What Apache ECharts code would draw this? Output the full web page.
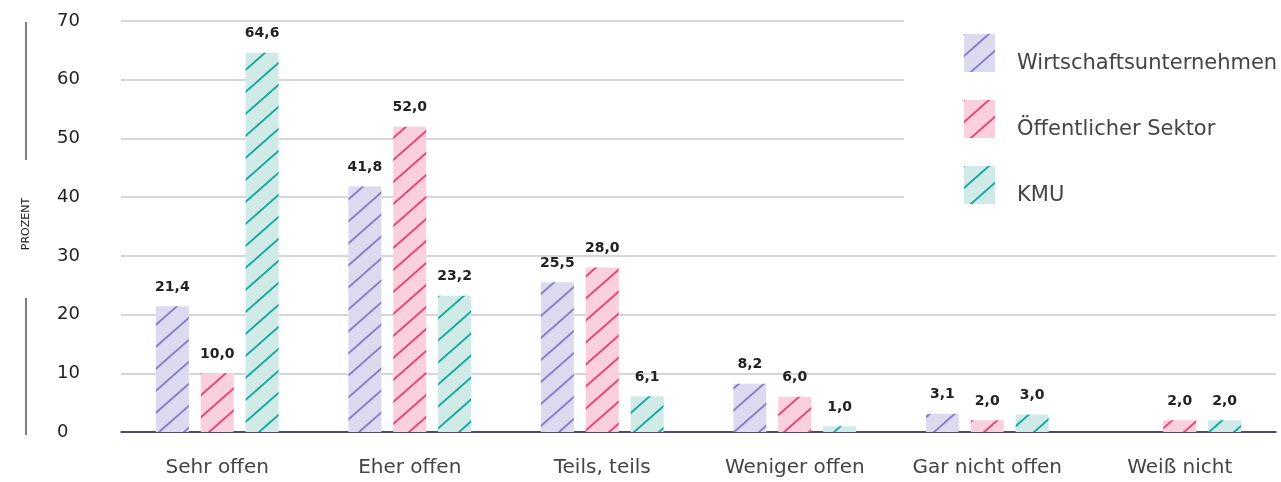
<!DOCTYPE html>
<html>
<head>
<meta charset="utf-8">
<script src="https://cdn.jsdelivr.net/npm/echarts@6/dist/echarts.min.js"></script>
<style>
  html, body { margin: 0; padding: 0; background: #fff; }
  #chart { width: 1281px; height: 482px; }
</style>
</head>
<body>
<div id="chart"></div>
<script>
// Antwortkategorien und Anteile in Prozent
const categories = ['Sehr offen', 'Eher offen', 'Teils, teils', 'Weniger offen', 'Gar nicht offen', 'Weiß nicht'];
const seriesNames = ['Wirtschaftsunternehmen', 'Öffentlicher Sektor', 'KMU'];
const wirtschaft = [21.4, 41.8, 25.5, 8.2, 3.1, null];
const oeffentlich = [10.0, 52.0, 28.0, 6.0, 2.0, 2.0];
const kmu = [64.6, 23.2, 6.1, 1.0, 3.0, 2.0];
const yTicks = [0, 10, 20, 30, 40, 50, 60, 70];

const FONT = '"DejaVu Sans", "Noto Sans", sans-serif';

// Schraffur: helle Fläche mit diagonalen Linien (links unten nach rechts oben)
function hatch(fill, stroke) {
  const w = 25, h = 22;
  const c = document.createElement('canvas');
  c.width = w; c.height = h;
  const ctx = c.getContext('2d');
  ctx.fillStyle = fill;
  ctx.fillRect(0, 0, w, h);
  ctx.strokeStyle = stroke;
  ctx.lineWidth = 2;
  for (let k = -1; k <= 1; k++) {
    ctx.beginPath();
    ctx.moveTo(-w, 2 * h + k * h);
    ctx.lineTo(2 * w, -h + k * h);
    ctx.stroke();
  }
  return { image: c, repeat: 'repeat' };
}

const styles = [
  hatch('#dcdaee', '#8580c8'),
  hatch('#f9d0dc', '#e8457b'),
  hatch('#d0eae8', '#19aa9f')
];
const values = [wirtschaft, oeffentlich, kmu];

const fmt = v => v.toFixed(1).replace('.', ',');

const chart = echarts.init(document.getElementById('chart'));
chart.setOption({
  animation: false,
  backgroundColor: '#fff',
  textStyle: { fontFamily: FONT },
  grid: { left: 121, right: 5, top: 21, bottom: 50, containLabel: false },
  legend: {
    orient: 'vertical',
    left: 964,
    top: 34,
    padding: 0,
    itemWidth: 31,
    itemHeight: 38,
    itemGap: 25.5,
    icon: 'rect',
    data: seriesNames,
    formatter: name => '{t|' + name + '}',
    textStyle: {
      fontFamily: FONT, fontSize: 21, color: '#444',
      rich: { t: { fontFamily: FONT, fontSize: 21, color: '#444', padding: [22, 0, 0, 17] } }
    }
  },
  xAxis: {
    type: 'category',
    data: categories,
    axisTick: { show: false },
    axisLine: { lineStyle: { color: '#1f1d4b', width: 1.5 } },
    axisLabel: { interval: 0, fontFamily: FONT, fontSize: 20, color: '#444', margin: 26 }
  },
  yAxis: {
    type: 'value',
    min: 0, max: 70, interval: 10,
    axisLine: { show: false },
    axisTick: { show: false },
    splitLine: { lineStyle: { color: '#c8c8cc', width: 1.5 } },
    axisLabel: {
      fontFamily: FONT, fontSize: 18, color: '#222',
      align: 'left', margin: 64,
      formatter: v => yTicks.includes(v) ? String(v) : ''
    }
  },
  graphic: [
    // weißer Hintergrund hinter der Legende
    { type: 'rect', left: 904, top: 0, shape: { width: 377, height: 210 }, style: { fill: '#fff' }, z: 3, silent: true },
    // Achsentitel mit seitlichen Linien
    { type: 'text', x: 26, y: 224, rotation: Math.PI / 2,
      style: { text: 'PROZENT', fontFamily: FONT, fontSize: 11, fill: '#222', align: 'center', verticalAlign: 'middle' } },
    { type: 'line', shape: { x1: 26, y1: 22, x2: 26, y2: 160 }, style: { stroke: '#555', lineWidth: 1.5 } },
    { type: 'line', shape: { x1: 26, y1: 298, x2: 26, y2: 435 }, style: { stroke: '#555', lineWidth: 1.5 } }
  ],
  series: seriesNames.map((name, i) => ({
    name,
    type: 'bar',
    barWidth: 33,
    barGap: '36%',
    data: values[i].map(v => v == null ? '-' : v),
    itemStyle: { color: styles[i] },
    label: {
      show: true,
      position: 'top',
      distance: 12,
      fontFamily: FONT,
      fontSize: 14,
      fontWeight: 'bold',
      color: '#222',
      formatter: p => fmt(p.value)
    }
  }))
});
</script>
</body>
</html>
